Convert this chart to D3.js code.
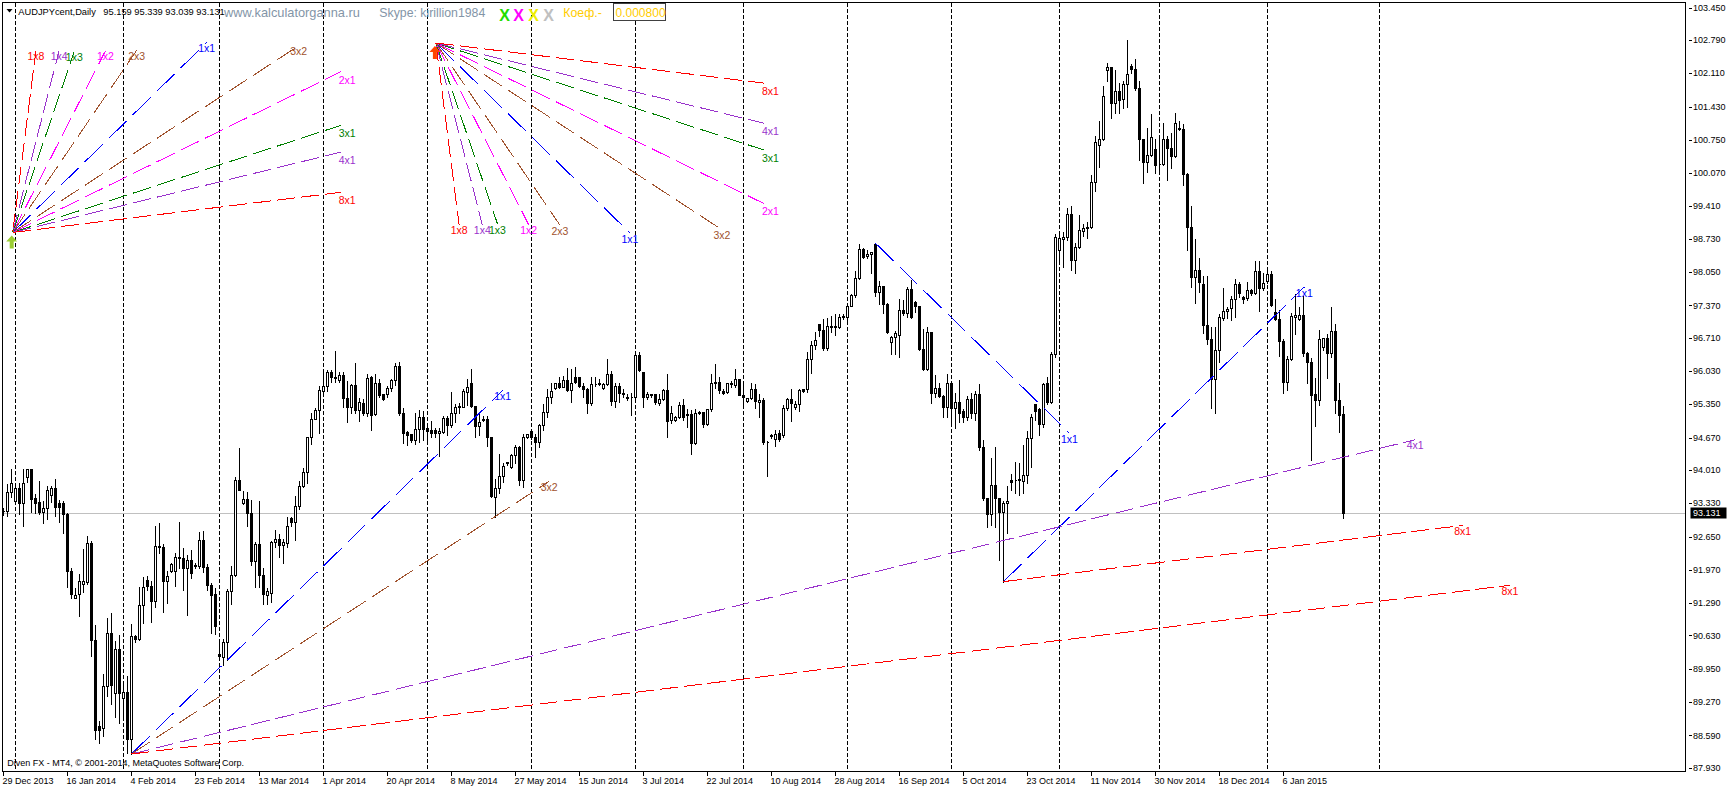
<!DOCTYPE html>
<html>
<head>
<meta charset="utf-8">
<script src="https://cdn.jsdelivr.net/npm/d3@7"></script>
<style>
  body { margin: 0; background: #fff; }
  svg { display: block; font-family: "Liberation Sans", Arial, sans-serif; }
</style>
</head>
<body>
<svg id="chart" width="1729" height="789"></svg>
<script>
const symbolTitle = "AUDJPYcent,Daily";
const lastQuote = "95.159 95.339 93.039 93.131";
const bidPrice = 93.131;
const startDate = "2013-12-29";

// daily bars: [open, high, low, close]
const candles = [
  [93.18,93.26,93.09,93.18],[93.18,93.75,93.06,93.55],[93.55,94.04,93.46,93.75],[93.38,93.77,93.33,93.64],[93.64,93.77,93.12,93.34],
  [93.33,94.04,92.87,93.74],[93.86,94.04,93.77,94.03],[94.03,94.04,93.16,93.42],[93.44,93.53,93.14,93.34],[93.36,93.81,93.12,93.16],
  [93.16,93.40,92.92,93.23],[93.23,93.70,93.01,93.61],[93.50,93.70,93.36,93.64],[93.64,93.84,93.06,93.26],[93.34,93.42,92.95,93.26],
  [93.34,93.40,92.72,93.11],[93.11,93.16,91.61,91.95],[91.95,92.03,91.39,91.48],[91.39,91.62,91.39,91.46],[91.48,91.90,91.03,91.75],
  [91.68,92.41,91.52,91.75],[91.73,92.68,91.68,92.52],[92.52,92.59,90.21,90.53],[90.53,90.86,88.51,88.70],[88.79,88.90,88.44,88.70],
  [88.75,89.86,88.58,89.60],[89.60,91.01,89.40,90.69],[90.69,91.10,89.24,89.62],[89.45,90.54,88.97,90.35],[90.35,90.67,88.84,89.45],
  [89.35,89.67,88.90,89.48],[89.48,89.82,88.22,88.51],[88.51,90.88,88.21,90.61],[90.61,90.67,90.50,90.55],[90.56,91.64,90.54,91.26],
  [91.26,91.84,90.89,91.63],[91.76,91.87,91.56,91.64],[91.65,91.76,90.91,91.34],[91.34,92.89,91.22,92.46],[92.44,92.95,92.31,92.46],
  [92.43,92.51,91.10,91.75],[91.75,91.97,91.30,91.84],[91.95,92.14,91.93,92.09],[91.95,92.34,91.64,92.24],[92.23,92.97,92.00,92.21],
  [92.21,92.44,91.56,92.00],[92.00,92.29,91.04,92.17],[92.17,92.39,91.81,91.90],[92.07,92.14,92.00,92.04],[92.04,92.77,92.00,92.59],
  [92.59,92.78,91.93,92.02],[92.02,92.10,91.56,91.67],[91.67,91.73,90.69,91.46],[91.48,91.61,90.67,90.83],[90.25,90.57,90.20,90.22],
  [90.20,90.57,90.02,90.49],[90.49,91.60,90.13,91.54],[91.54,92.06,91.27,91.87],[91.87,93.89,91.85,93.81],[93.81,94.47,93.60,93.61],
  [93.34,93.61,93.32,93.42],[93.42,93.59,92.87,93.13],[93.13,93.42,92.06,92.16],[92.16,92.55,91.63,92.50],[92.50,93.40,91.61,91.87],
  [91.87,92.03,91.27,91.48],[91.46,91.63,91.27,91.53],[91.49,92.58,91.32,92.53],[92.53,92.80,92.43,92.61],[92.61,92.72,92.24,92.48],
  [92.47,92.63,92.10,92.53],[92.51,93.07,92.44,92.87],[93.02,93.06,92.86,92.95],[92.95,93.50,92.58,93.28],[93.28,93.80,93.21,93.69],
  [93.69,94.08,93.67,93.96],[93.96,94.70,93.75,94.68],[94.68,95.20,94.55,95.06],[95.06,95.29,95.06,95.23],[95.23,95.74,94.77,95.64],
  [95.63,96.08,95.61,95.72],[95.72,96.08,95.63,96.02],[96.02,96.08,95.81,95.90],[95.90,96.47,95.81,95.89],[95.85,96.04,95.81,95.95],
  [95.95,96.04,95.30,95.47],[95.47,95.85,94.98,95.29],[95.29,95.78,95.17,95.74],[95.74,96.22,95.17,95.23],[95.23,95.51,95.02,95.40],
  [95.37,95.47,95.13,95.17],[95.17,95.98,95.11,95.88],[95.91,95.95,94.83,95.13],[95.15,95.98,95.13,95.78],[95.78,95.88,95.51,95.54],
  [95.56,95.57,95.44,95.45],[95.57,95.74,95.51,95.68],[95.68,95.88,95.63,95.85],[95.85,96.22,95.74,96.13],[96.13,96.24,95.13,95.17],
  [95.17,95.29,94.57,94.77],[94.78,94.83,94.51,94.72],[94.74,94.76,94.59,94.63],[94.63,95.20,94.55,94.84],[94.84,95.25,94.59,95.09],
  [95.09,95.24,94.62,94.84],[94.86,94.93,94.59,94.81],[94.83,95.03,94.69,94.77],[94.83,94.89,94.69,94.76],[94.77,94.88,94.30,94.80],
  [94.79,95.13,94.76,95.08],[95.08,95.13,94.72,94.93],[94.93,95.63,94.89,95.17],[95.17,95.37,94.99,95.29],[95.29,95.40,95.17,95.31],
  [95.30,95.69,95.29,95.62],[95.61,95.88,95.34,95.70],[95.79,96.09,95.30,95.32],[95.32,95.33,94.69,94.91],[94.91,95.17,94.72,94.99],
  [95.06,95.13,95.00,95.03],[95.06,95.13,94.49,94.68],[94.68,94.69,93.46,93.47],[93.46,93.84,93.04,93.64],[93.64,94.35,93.53,93.89],
  [93.89,94.18,93.77,94.09],[94.17,94.18,94.11,94.15],[94.08,94.35,94.04,94.32],[94.32,94.54,94.15,94.47],[94.47,94.52,93.70,93.81],
  [93.81,94.76,93.67,94.68],[94.68,94.77,94.66,94.75],[94.81,94.84,94.64,94.69],[94.69,94.76,94.27,94.59],[94.59,94.96,94.47,94.92],
  [94.92,95.37,94.83,95.20],[95.20,95.69,95.10,95.49],[95.49,95.81,95.37,95.63],[95.68,95.81,95.66,95.79],[95.78,95.92,95.68,95.71],
  [95.71,95.95,95.70,95.85],[95.85,96.12,95.63,95.64],[95.64,96.09,95.39,95.79],[95.91,96.13,95.79,95.80],[95.91,95.93,95.71,95.73],
  [95.73,95.81,95.51,95.66],[95.66,95.71,95.17,95.37],[95.37,95.92,95.34,95.77],[95.77,95.92,95.73,95.76],[95.77,95.88,95.75,95.78],
  [95.68,95.81,95.66,95.77],[95.77,96.29,95.75,95.97],[95.97,96.05,95.34,95.41],[95.41,95.81,95.29,95.73],[95.73,95.81,95.39,95.58],
  [95.59,95.68,95.51,95.56],[95.49,95.59,95.44,95.48],[95.49,95.61,95.13,95.50],[95.49,96.46,95.47,96.36],[96.36,96.43,96.04,96.05],
  [96.02,96.04,95.29,95.49],[95.49,95.63,95.45,95.57],[95.56,95.57,95.51,95.54],[95.56,95.59,95.36,95.39],[95.37,95.58,95.34,95.45],
  [95.45,95.69,95.44,95.64],[95.64,95.98,94.69,95.02],[95.03,95.34,94.96,95.17],[95.03,95.13,95.00,95.10],[95.10,95.41,95.07,95.34],
  [95.34,95.47,95.03,95.10],[95.15,95.27,94.89,95.13],[95.15,95.25,94.34,94.57],[94.57,95.27,94.55,95.17],[95.19,95.23,95.15,95.18],
  [95.19,95.22,94.89,94.95],[94.95,95.27,94.93,95.25],[95.25,95.99,95.22,95.79],[95.79,96.20,95.68,95.81],[95.81,95.92,95.59,95.64],
  [95.63,95.68,95.57,95.59],[95.61,95.81,95.58,95.78],[95.77,95.85,95.71,95.79],[95.75,96.09,95.71,95.86],[95.86,95.88,95.54,95.55],
  [95.55,95.81,95.27,95.51],[95.42,95.51,95.39,95.47],[95.47,95.81,95.45,95.66],[95.66,95.79,95.27,95.41],[95.39,95.58,95.10,95.44],
  [95.44,95.51,94.55,94.58],[94.59,94.62,93.89,94.58],[94.72,94.77,94.66,94.71],[94.64,94.84,94.50,94.74],[94.76,94.84,94.61,94.64],
  [94.72,95.36,94.69,95.27],[95.27,95.49,95.23,95.45],[95.45,95.68,95.00,95.37],[95.29,95.44,95.25,95.36],[95.36,95.69,95.22,95.64],
  [95.66,95.68,95.61,95.63],[95.66,96.43,95.61,96.27],[96.27,96.66,95.98,96.56],[96.56,96.85,96.49,96.66],[96.99,97.02,96.75,96.86],
  [96.86,97.11,96.46,96.51],[96.51,97.13,96.45,96.94],[96.93,97.17,96.82,96.95],[96.95,97.21,96.77,96.93],[96.93,97.21,96.90,97.14],
  [97.13,97.21,97.09,97.15],[97.14,97.36,97.04,97.36],[97.36,97.63,97.35,97.58],[97.58,98.09,97.55,97.92],[97.92,98.64,97.91,98.52],
  [98.52,98.57,98.33,98.35],[98.37,98.52,98.33,98.43],[98.43,98.47,98.03,98.46],[98.62,98.64,97.56,97.65],[97.65,97.89,97.40,97.77],
  [97.77,97.79,97.21,97.40],[97.40,97.45,96.80,96.83],[96.63,96.77,96.38,96.72],[96.72,96.87,96.38,96.80],[96.77,97.52,96.32,97.28],
  [97.28,97.50,97.17,97.21],[97.21,97.77,97.14,97.70],[97.70,97.90,97.11,97.13],[97.43,97.48,97.24,97.35],[97.35,97.36,96.47,96.49],
  [96.49,96.90,96.05,96.07],[96.07,96.94,96.05,96.82],[96.82,96.85,95.37,95.59],[95.59,95.97,95.51,95.68],[95.68,95.81,95.49,95.53],
  [95.53,95.57,95.09,95.29],[95.29,95.99,95.10,95.78],[95.78,95.85,94.95,95.27],[95.27,95.61,94.86,95.39],[95.39,95.86,94.99,95.18],
  [95.22,95.27,94.99,95.09],[95.09,95.54,95.04,95.45],[95.45,95.61,95.07,95.17],[95.17,95.64,95.03,95.56],[95.56,95.79,94.42,94.47],
  [94.47,94.64,93.40,93.43],[93.43,93.46,92.84,93.12],[93.12,94.28,92.89,93.70],[93.70,94.49,92.85,93.43],[93.43,93.45,92.17,93.16],
  [93.16,93.40,91.73,93.33],[93.33,93.70,92.72,93.38],[93.81,93.94,93.60,93.77],[93.81,94.19,93.53,93.80],[93.81,94.18,93.50,93.82],
  [93.79,94.54,93.53,93.91],[93.91,94.83,93.74,94.66],[94.66,95.17,94.08,95.09],[95.36,95.37,95.03,95.22],[95.25,95.29,94.72,94.95],
  [94.95,95.81,94.89,95.76],[95.78,95.92,95.36,95.39],[95.39,96.43,95.37,96.37],[96.37,98.84,96.32,98.76],[98.50,98.84,98.26,98.74],
  [98.72,98.88,98.16,98.77],[98.76,99.39,98.71,99.24],[99.24,99.42,98.09,98.30],[98.30,98.67,98.03,98.57],[98.57,99.24,98.54,98.91],
  [98.88,99.05,98.78,98.95],[98.95,99.10,98.74,98.98],[98.98,100.05,98.95,99.90],[99.90,100.85,99.70,100.70],[100.65,101.16,100.20,100.76],
  [100.76,101.87,100.75,101.65],[102.17,102.35,101.96,102.23],[102.23,102.25,101.19,101.51],[101.51,102.19,101.29,101.75],[101.75,101.94,101.29,101.57],
  [101.58,101.97,101.40,101.89],[101.89,102.81,101.43,102.10],[102.26,102.32,102.11,102.19],[102.19,102.42,101.77,101.82],[101.82,101.97,100.35,100.76],
  [100.76,100.78,99.88,100.29],[100.29,101.02,100.10,100.44],[100.44,101.29,100.42,100.80],[100.56,100.78,100.07,100.24],[100.26,100.78,100.10,100.25],
  [100.26,101.12,100.24,100.76],[100.76,100.85,99.93,100.59],[100.59,100.92,100.17,100.42],[100.42,101.33,100.41,101.09],[101.00,101.16,100.95,100.97],
  [100.97,101.09,99.83,100.06],[100.06,100.10,98.50,98.98],[98.98,99.42,97.75,97.96],[97.96,98.74,97.41,98.09],[98.09,98.35,97.65,97.84],
  [97.80,97.99,96.80,96.97],[96.97,97.99,96.58,96.68],[96.68,96.94,95.27,95.87],[95.87,96.94,95.18,96.46],[96.46,97.21,96.22,97.13],
  [97.12,97.75,97.07,97.26],[97.26,97.35,97.11,97.29],[97.31,97.58,97.07,97.51],[97.51,97.92,97.14,97.81],[97.81,97.86,97.55,97.62],
  [97.54,97.58,97.41,97.50],[97.52,97.86,97.48,97.69],[97.69,97.72,97.58,97.62],[97.62,98.29,97.60,98.08],[98.08,98.29,97.26,97.72],
  [97.72,98.06,97.69,97.82],[97.86,98.09,97.83,98.01],[98.01,98.09,97.35,97.38],[97.24,97.52,97.07,97.09],[97.09,97.29,96.34,96.65],
  [96.65,96.70,95.58,95.81],[95.81,96.36,95.64,96.27],[96.27,97.24,96.26,97.16],[97.14,97.63,96.79,97.18],[97.09,97.36,97.07,97.18],
  [97.17,97.58,96.34,96.40],[96.40,96.43,95.78,96.22],[96.22,96.31,94.21,95.54],[95.56,95.90,94.91,95.44],[95.44,96.88,95.34,96.68],
  [96.53,96.72,96.46,96.70],[96.70,96.80,95.88,96.40],[96.40,97.36,96.31,96.85],[96.85,97.02,95.17,95.43],[95.43,95.81,94.79,95.13],
  [95.159,95.339,93.039,93.131]
];

const priceTicks = [103.45,102.79,102.11,101.43,100.75,100.07,99.41,98.73,98.05,97.37,96.71,96.03,
                    95.35,94.67,94.01,93.33,92.65,91.97,91.29,90.63,89.95,89.27,88.59,87.93];

// one date label every 16 bars
const dateTicks = ["29 Dec 2013","16 Jan 2014","4 Feb 2014","23 Feb 2014","13 Mar 2014","1 Apr 2014",
                   "20 Apr 2014","8 May 2014","27 May 2014","15 Jun 2014","3 Jul 2014","22 Jul 2014",
                   "10 Aug 2014","28 Aug 2014","16 Sep 2014","5 Oct 2014","23 Oct 2014","11 Nov 2014",
                   "30 Nov 2014","18 Dec 2014","6 Jan 2015"];

// Gann: price step per bar for the 1x1 line
const koef = 0.08;
const koefText = "0.000800";

// fan lines: name, slope ratio to 1x1, length in bars
const fanNames  = ["1x8","1x4","1x3","1x2","2x3","1x1","3x2","2x1","3x1","4x1","8x1"];
const fanRatios = [8, 4, 3, 2, 1.5, 1, 2/3, 1/2, 1/3, 1/4, 1/8];
const fanLength = [5.8, 11.6, 15.4, 23.2, 31, 48.5, 71.5, 82, 82, 82, 82];

// fan origins: bar index, price, direction
const fans = [
  { bar: 2.3,   price: 98.86,  dir: 1,  arrow: "#9acd32" },
  { bar: 108.1, price: 102.73, dir: -1, arrow: "#ff4500" }
];

// single Gann rays: bar index, price, direction, name, length in bars
const rays = [
  { bar: 32,  price: 88.21, dir: 1,  name: "1x1", len: 92.8 },
  { bar: 32,  price: 88.21, dir: 1,  name: "3x2", len: 104.4 },
  { bar: 32,  price: 88.21, dir: 1,  name: "4x1", len: 320.9 },
  { bar: 32,  price: 88.21, dir: 1,  name: "8x1", len: 344.6 },
  { bar: 218, price: 98.64, dir: -1, name: "1x1", len: 48.5 },
  { bar: 250, price: 91.73, dir: 1,  name: "1x1", len: 75.2 },
  { bar: 250, price: 91.73, dir: 1,  name: "8x1", len: 114.8 }
];

const lineColor = {
  "1x8": "#ff0000", "8x1": "#ff0000",
  "1x4": "#9932cc", "4x1": "#9932cc",
  "1x3": "#008000", "3x1": "#008000",
  "1x2": "#ff00ff", "2x1": "#ff00ff",
  "2x3": "#a0522d", "3x2": "#a0522d",
  "1x1": "#0000ff"
};

const svg = d3.select("#chart");
const frame = { left: 2.5, top: 2.5, right: 1685.5, bottom: 771.5 };

const x = d3.scaleLinear().domain([0, 1]).range([3.5, 7.5]);
const y = d3.scaleLinear().domain([87.93, 103.45]).range([767.7, 7.7]);
const py = p => Math.round(y(p)) + 0.5;

// bar dates: Sunday..Friday for real bars, every calendar day in the future
const dates = [];
{
  let d = d3.utcParse("%Y-%m-%d")(startDate);
  const nBars = Math.ceil((frame.right - x(0)) / (x(1) - x(0))) + 1;
  while (dates.length < nBars) {
    if (dates.length >= candles.length || d.getUTCDay() !== 6) dates.push(d);
    d = d3.utcDay.offset(d, 1);
  }
}

svg.append("rect").attr("width", 1729).attr("height", 789).attr("fill", "#fff");

// month separators (real bars plus the next month start only)
const monthStarts = d3.range(1, dates.length)
  .filter(i => dates[i].getUTCMonth() !== dates[i - 1].getUTCMonth());
const firstFuture = monthStarts.find(i => i >= candles.length);
const seps = monthStarts.filter(i => i <= firstFuture && x(i) < frame.right);
svg.append("g").selectAll("line").data(seps).join("line")
  .attr("x1", i => x(i)).attr("x2", i => x(i))
  .attr("y1", frame.top).attr("y2", frame.bottom)
  .attr("stroke", "#000").attr("stroke-dasharray", "4,2")
  .attr("shape-rendering", "crispEdges");

// bid line
svg.append("line")
  .attr("x1", frame.left).attr("x2", frame.right)
  .attr("y1", py(bidPrice)).attr("y2", py(bidPrice))
  .attr("stroke", "#c0c0c0").attr("shape-rendering", "crispEdges");

// candles
const gc = svg.append("g").attr("shape-rendering", "crispEdges");
gc.selectAll("line").data(candles).join("line")
  .attr("x1", (d, i) => x(i)).attr("x2", (d, i) => x(i))
  .attr("y1", d => py(d[1])).attr("y2", d => py(d[2]))
  .attr("stroke", "#000");
gc.selectAll("path").data(candles).join("path")
  .attr("d", (d, i) => {
    const cx = x(i), t = py(Math.max(d[0], d[3])), b = py(Math.min(d[0], d[3]));
    return `M${cx - 1},${t}H${cx + 1}V${b}H${cx - 1}Z`;
  })
  .attr("fill", d => d[3] >= d[0] ? "#fff" : "#000")
  .attr("stroke", "#000");

// gann lines
const gl = svg.append("g");
function drawRay(bar, price, dir, name, len, anchorStart) {
  const ratio = fanRatios[fanNames.indexOf(name)];
  const x1 = x(bar), y1 = y(price);
  const x2 = x(bar + len), y2 = y(price + dir * koef * ratio * len);
  const dx = x2 - x1, dy = y2 - y1;
  const f = Math.hypot(dx, dy) / Math.max(Math.abs(dx), Math.abs(dy));
  gl.append("line")
    .attr("x1", x1).attr("y1", y1).attr("x2", x2).attr("y2", y2)
    .attr("stroke", lineColor[name])
    .attr("stroke-dasharray", `${18 * f},${6 * f}`)
    .attr("shape-rendering", "crispEdges");
  gl.append("text")
    .attr("x", anchorStart ? x2 - 2 : x2)
    .attr("y", y2 + (anchorStart ? 8 : 6))
    .attr("dy", "0.35em")
    .attr("text-anchor", anchorStart ? "start" : "middle")
    .attr("font-size", "10.5px")
    .attr("fill", lineColor[name])
    .text(name);
}

fans.forEach(fan => {
  fanNames.forEach((name, k) => drawRay(fan.bar, fan.price, fan.dir, name, fanLength[k], fanRatios[k] <= 0.5));
  const cx = x(fan.bar) - 1, ty = y(fan.price) + 3;
  gl.append("path")
    .attr("d", `M${cx},${ty}L${cx + 5.5},${ty + 6}L${cx + 2},${ty + 6}L${cx + 2},${ty + 13}` +
               `L${cx - 2},${ty + 13}L${cx - 2},${ty + 6}L${cx - 5.5},${ty + 6}Z`)
    .attr("fill", fan.arrow);
});
rays.forEach(r => drawRay(r.bar, r.price, r.dir, r.name, r.len, false));

// frame
svg.append("rect")
  .attr("x", frame.left).attr("y", frame.top)
  .attr("width", frame.right - frame.left).attr("height", frame.bottom - frame.top)
  .attr("fill", "none").attr("stroke", "#000").attr("shape-rendering", "crispEdges");

// price axis
const ga = svg.append("g").attr("font-size", "9px");
ga.selectAll("line").data(priceTicks).join("line")
  .attr("x1", 1689).attr("x2", 1692)
  .attr("y1", d => py(d)).attr("y2", d => py(d))
  .attr("stroke", "#000").attr("shape-rendering", "crispEdges");
ga.selectAll("text").data(priceTicks).join("text")
  .attr("x", 1693).attr("y", d => y(d)).attr("dy", "0.35em")
  .text(d => d.toFixed(3));

// bid box
svg.append("rect")
  .attr("x", 1690.5).attr("y", py(bidPrice) - 6)
  .attr("width", 36).attr("height", 11).attr("fill", "#000");
svg.append("text")
  .attr("x", 1693).attr("y", y(bidPrice)).attr("dy", "0.35em")
  .attr("font-size", "9px").attr("fill", "#fff")
  .text(bidPrice.toFixed(3));

// time axis
const gt = svg.append("g").attr("font-size", "9px");
gt.selectAll("line").data(dateTicks).join("line")
  .attr("x1", (d, k) => x(k * 16)).attr("x2", (d, k) => x(k * 16))
  .attr("y1", frame.bottom).attr("y2", frame.bottom + 4)
  .attr("stroke", "#000").attr("shape-rendering", "crispEdges");
gt.selectAll("text").data(dateTicks).join("text")
  .attr("x", (d, k) => x(k * 16) - 1).attr("y", 784)
  .text(d => d);

// header
svg.append("path").attr("d", "M6.5,9L12.5,9L9.5,12.5Z").attr("fill", "#000");
svg.append("text").attr("x", 18.3).attr("y", 14.5).attr("font-size", "9.3px").text(symbolTitle);
svg.append("text").attr("x", 103.3).attr("y", 14.5).attr("font-size", "9.3px").text(lastQuote);
svg.append("text").attr("x", 224).attr("y", 16.7).attr("font-size", "12.8px").attr("fill", "#8395a7")
  .text("www.kalculatorganna.ru");
svg.append("text").attr("x", 379.3).attr("y", 16.7).attr("font-size", "12.3px").attr("fill", "#8395a7")
  .text("Skype: kirillion1984");
[["#22dd00", 499.3], ["#ff00ff", 513.3], ["#eeee00", 528.3], ["#c0c0c0", 543.3]].forEach(([c, px]) => {
  svg.append("text").attr("x", px).attr("y", 20.7).attr("font-size", "16px")
    .attr("font-weight", "bold").attr("fill", c).text("X");
});
svg.append("text").attr("x", 563.3).attr("y", 16.7).attr("font-size", "12.3px").attr("fill", "#ffcc00")
  .text("Коеф.-");
svg.append("rect").attr("x", 613.5).attr("y", 3.5).attr("width", 52).attr("height", 16.5)
  .attr("fill", "#fff").attr("stroke", "#404040").attr("shape-rendering", "crispEdges");
svg.append("text").attr("x", 615.5).attr("y", 16.7).attr("font-size", "12px").attr("fill", "#ffcc00")
  .text(koefText);

svg.append("text").attr("x", 7.3).attr("y", 766).attr("font-size", "9px")
  .text("Diven FX - MT4, © 2001-2014, MetaQuotes Software Corp.");
</script>
</body>
</html>
